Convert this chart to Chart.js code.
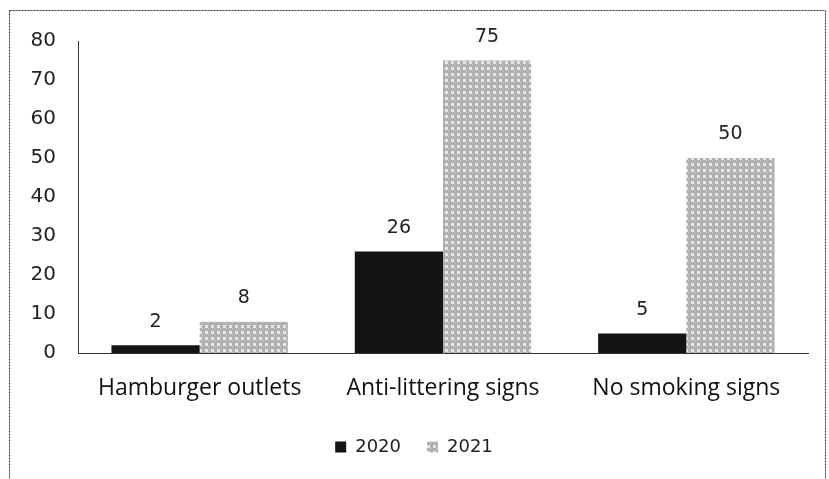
<!DOCTYPE html>
<html>
<head>
<meta charset="utf-8">
<script src="https://cdn.jsdelivr.net/npm/chart.js@4/dist/chart.umd.min.js"></script>
<style>
  html, body { margin: 0; padding: 0; background: #fff; }
  #wrap { width: 829px; height: 479px; }
</style>
</head>
<body>
<div id="wrap"><canvas id="grafico"></canvas></div>
<script>
// datos
var categorias = ['Hamburger outlets', 'Anti-littering signs', 'No smoking signs']
var anios = ['2020', '2021']
var valores2020 = [2, 26, 5]
var valores2021 = [8, 75, 50]
var ticksY = [0, 10, 20, 30, 40, 50, 60, 70, 80]

// trama gris tipo cuadricula
function hacerTrama(){
  var c = document.createElement('canvas')
  c.width = 6; c.height = 6
  var g = c.getContext('2d')
  g.fillStyle = '#b0b0b0'
  g.fillRect(0, 0, 6, 6)
  g.fillStyle = '#e6e6e6'
  g.fillRect(1, 1, 3, 3)
  g.fillStyle = '#d0d0d0'
  g.fillRect(4, 4, 1, 1)
  return g.createPattern(c, 'repeat')
}
var trama = hacerTrama()

var marco = {
  id: 'marco',
  beforeDraw: function(chart){
    var ctx = chart.ctx
    ctx.save()
    ctx.strokeStyle = '#333'
    ctx.lineWidth = 1
    ctx.setLineDash([2, 1])
    ctx.strokeRect(9.5, 10.5, 816, 490)
    ctx.restore()
  }
}

var etiquetas = {
  id: 'etiquetas',
  afterDatasetsDraw: function(chart){
    var ctx = chart.ctx
    ctx.save()
    ctx.font = '19px "DejaVu Sans"'
    ctx.fillStyle = '#222'
    ctx.textAlign = 'center'
    ctx.textBaseline = 'bottom'
    chart.data.datasets.forEach(function(ds, i){
      chart.getDatasetMeta(i).data.forEach(function(bar, j){
        ctx.fillText(ds.data[j], bar.x, bar.y - 14)
      })
    })
    ctx.restore()
  }
}

var ctx = document.getElementById('grafico').getContext('2d')
new Chart(ctx, {
  type: 'bar',
  data: {
    labels: categorias,
    datasets: [{
      label: anios[0],
      data: valores2020,
      backgroundColor: '#141414',
      categoryPercentage: 0.725,
      barPercentage: 1
    }, {
      label: anios[1],
      data: valores2021,
      backgroundColor: trama,
      categoryPercentage: 0.725,
      barPercentage: 1
    }]
  },
  options: {
    responsive: true,
    maintainAspectRatio: false,
    animation: false,
    layout: { padding: { left: 20, right: 21, top: 41, bottom: 13 } },
    plugins: {
      tooltip: { enabled: false },
      legend: {
        position: 'bottom',
        labels: {
          color: '#222',
          font: { family: 'DejaVu Sans', size: 18 },
          boxWidth: 11,
          boxHeight: 11,
          padding: 26
        }
      }
    },
    scales: {
      x: {
        grid: { display: false, drawTicks: false },
        border: { color: '#333', width: 1 },
        ticks: {
          color: '#111',
          font: { family: 'Open Sans', size: 23 },
          padding: 22
        },
        afterFit: function(s){ s.height = 59 }
      },
      y: {
        min: 0,
        max: 80,
        afterBuildTicks: function(s){ s.ticks = ticksY.map(function(v){ return { value: v } }) },
        grid: { display: false, drawTicks: false },
        border: { color: '#333', width: 1 },
        ticks: {
          color: '#222',
          font: { family: 'DejaVu Sans', size: 20 },
          padding: 22
        },
        afterFit: function(s){ s.width = 58 }
      }
    }
  },
  plugins: [marco, etiquetas]
})
</script>
</body>
</html>
